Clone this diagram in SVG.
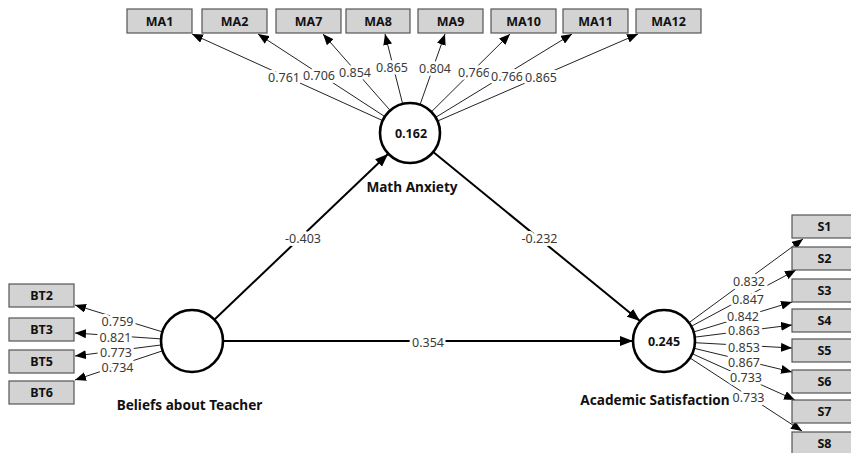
<svg xmlns="http://www.w3.org/2000/svg" width="851" height="453" viewBox="0 0 851 453">
<defs>
<marker id="ah" markerUnits="userSpaceOnUse" markerWidth="11" markerHeight="9" refX="11" refY="4.5" orient="auto"><path d="M0,0 L11,4.5 L0,9 z" fill="#000"/></marker>
<marker id="ahb" markerUnits="userSpaceOnUse" markerWidth="13" markerHeight="10" refX="13" refY="5" orient="auto"><path d="M0,0 L13,5 L0,10 z" fill="#000"/></marker>
<style>
.box{fill:#d3d3d3;stroke:#555;stroke-width:1.2}
.bl{font-family:"Noto Sans","Open Sans",sans-serif;font-weight:bold;font-size:12.5px;fill:#111;text-anchor:middle}
.lv{fill:#fff;stroke:#000;stroke-width:2.6}
.lvt{font-family:"Noto Sans","Open Sans",sans-serif;font-weight:bold;font-size:13.6px;fill:#111;text-anchor:middle}
.lvn{font-family:"Noto Sans","Open Sans",sans-serif;font-weight:bold;font-size:12.5px;fill:#111;text-anchor:middle}
.ld{stroke:#222;stroke-width:1;fill:none;marker-end:url(#ah)}
.pt{stroke:#000;stroke-width:2;fill:none;marker-end:url(#ahb)}
.num{font-family:"Noto Sans","Open Sans",sans-serif;font-size:12.5px;fill:#3a3a3a;text-anchor:middle;stroke:#fff;stroke-width:6;paint-order:stroke;stroke-linejoin:round}
</style>
</defs>
<rect width="851" height="453" fill="#fff"/>
<g id="connectors">
<line class="ld" x1="410" y1="133" x2="192" y2="34"/>
<line class="ld" x1="410" y1="133" x2="258" y2="34"/>
<line class="ld" x1="410" y1="133" x2="323" y2="34"/>
<line class="ld" x1="410" y1="133" x2="385" y2="34"/>
<line class="ld" x1="410" y1="133" x2="445" y2="34"/>
<line class="ld" x1="410" y1="133" x2="510" y2="34"/>
<line class="ld" x1="410" y1="133" x2="572" y2="34"/>
<line class="ld" x1="410" y1="133" x2="638" y2="34"/>
<line class="ld" x1="192" y1="341" x2="75" y2="305"/>
<line class="ld" x1="192" y1="341" x2="75" y2="333"/>
<line class="ld" x1="192" y1="341" x2="75" y2="356"/>
<line class="ld" x1="192" y1="341" x2="75" y2="380"/>
<line class="ld" x1="664" y1="341" x2="803" y2="239"/>
<line class="ld" x1="664" y1="341" x2="796" y2="270"/>
<line class="ld" x1="664" y1="341" x2="792" y2="302"/>
<line class="ld" x1="664" y1="341" x2="792" y2="325"/>
<line class="ld" x1="664" y1="341" x2="792" y2="348"/>
<line class="ld" x1="664" y1="341" x2="792" y2="372"/>
<line class="ld" x1="664" y1="341" x2="795" y2="400"/>
<line class="ld" x1="664" y1="341" x2="802" y2="431"/>
<line class="pt" x1="192" y1="341" x2="388" y2="154"/>
<line class="pt" x1="410" y1="133" x2="640" y2="321"/>
<line class="pt" x1="192" y1="341" x2="633" y2="341"/>
<text class="num" x="284" y="82">0.761</text>
<text class="num" x="319" y="80">0.706</text>
<text class="num" x="355" y="77">0.854</text>
<text class="num" x="392" y="72">0.865</text>
<text class="num" x="435" y="73">0.804</text>
<text class="num" x="474" y="77">0.766</text>
<text class="num" x="507" y="81">0.766</text>
<text class="num" x="541" y="82">0.865</text>
<text class="num" x="117.5" y="325.5">0.759</text>
<text class="num" x="115.5" y="341.5">0.821</text>
<text class="num" x="116" y="356.5">0.773</text>
<text class="num" x="117.5" y="371.5">0.734</text>
<text class="num" x="749" y="285.5">0.832</text>
<text class="num" x="748" y="303.5">0.847</text>
<text class="num" x="743" y="321">0.842</text>
<text class="num" x="744" y="334.5">0.863</text>
<text class="num" x="744" y="351.5">0.853</text>
<text class="num" x="744" y="366.5">0.867</text>
<text class="num" x="746" y="381.5">0.733</text>
<text class="num" x="748.5" y="401.5">0.733</text>
<text class="num" x="303" y="242.5">-0.403</text>
<text class="num" x="539.5" y="242.5">-0.232</text>
<text class="num" x="428" y="346.5">0.354</text>
</g>
<g id="MA1"><rect class="box" x="127" y="9" width="65" height="24"/><text class="bl" x="159.5" y="25.5">MA1</text></g>
<g id="MA2"><rect class="box" x="202" y="9" width="65" height="24"/><text class="bl" x="234.5" y="25.5">MA2</text></g>
<g id="MA7"><rect class="box" x="276" y="9" width="65" height="24"/><text class="bl" x="308.5" y="25.5">MA7</text></g>
<g id="MA8"><rect class="box" x="346" y="9" width="64" height="24"/><text class="bl" x="378" y="25.5">MA8</text></g>
<g id="MA9"><rect class="box" x="418" y="9" width="65" height="24"/><text class="bl" x="450.5" y="25.5">MA9</text></g>
<g id="MA10"><rect class="box" x="491" y="9" width="65" height="24"/><text class="bl" x="523.5" y="25.5">MA10</text></g>
<g id="MA11"><rect class="box" x="563" y="9" width="65" height="24"/><text class="bl" x="595.5" y="25.5">MA11</text></g>
<g id="MA12"><rect class="box" x="636" y="9" width="65" height="24"/><text class="bl" x="668.5" y="25.5">MA12</text></g>
<g id="BT2"><rect class="box" x="9" y="284" width="65" height="23"/><text class="bl" x="41.5" y="300">BT2</text></g>
<g id="BT3"><rect class="box" x="9" y="318" width="65" height="23"/><text class="bl" x="41.5" y="334">BT3</text></g>
<g id="BT5"><rect class="box" x="9" y="350" width="65" height="23"/><text class="bl" x="41.5" y="366">BT5</text></g>
<g id="BT6"><rect class="box" x="9" y="381" width="65" height="23"/><text class="bl" x="41.5" y="397">BT6</text></g>
<g id="S1"><rect class="box" x="792" y="215" width="65" height="23"/><text class="bl" x="824.5" y="231">S1</text></g>
<g id="S2"><rect class="box" x="792" y="247" width="65" height="23"/><text class="bl" x="824.5" y="263">S2</text></g>
<g id="S3"><rect class="box" x="792" y="279" width="65" height="23"/><text class="bl" x="824.5" y="295">S3</text></g>
<g id="S4"><rect class="box" x="792" y="309" width="65" height="23"/><text class="bl" x="824.5" y="325">S4</text></g>
<g id="S5"><rect class="box" x="792" y="339" width="65" height="23"/><text class="bl" x="824.5" y="355">S5</text></g>
<g id="S6"><rect class="box" x="792" y="370" width="65" height="23"/><text class="bl" x="824.5" y="386">S6</text></g>
<g id="S7"><rect class="box" x="792" y="400" width="65" height="23"/><text class="bl" x="824.5" y="416">S7</text></g>
<g id="S8"><rect class="box" x="792" y="432" width="65" height="23"/><text class="bl" x="824.5" y="448">S8</text></g>
<g id="MathAnxiety"><circle class="lv" cx="410" cy="133" r="30"/><text class="lvn" x="411" y="137.5">0.162</text><text class="lvt" x="412" y="192">Math Anxiety</text></g>
<g id="BeliefsAboutTeacher"><circle class="lv" cx="192" cy="341" r="31"/><text class="lvt" x="189.5" y="410">Beliefs about Teacher</text></g>
<g id="AcademicSatisfaction"><circle class="lv" cx="664" cy="341" r="31"/><text class="lvn" x="664" y="346">0.245</text><text class="lvt" x="655" y="405">Academic Satisfaction</text></g>
</svg>
